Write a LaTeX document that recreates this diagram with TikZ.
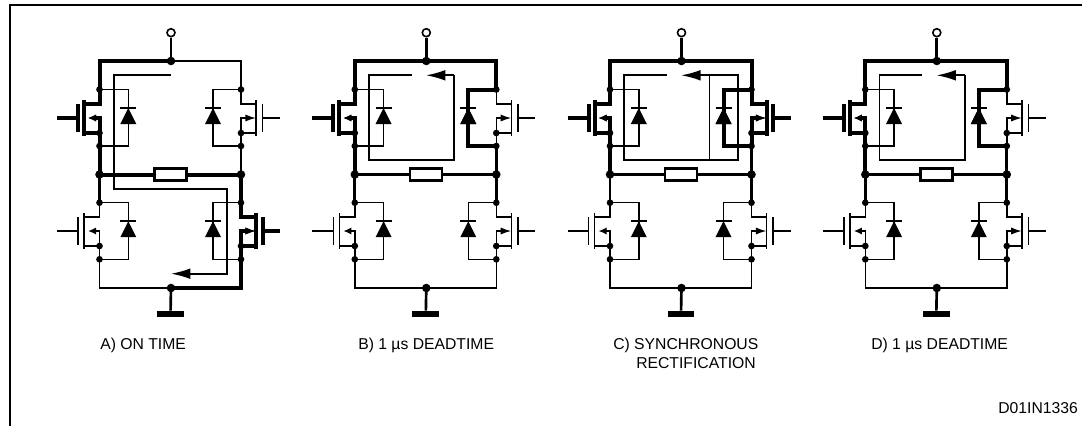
\documentclass[tikz,border=0pt]{standalone}
\usepackage{fontspec}
\setmainfont{Liberation Sans}
\usetikzlibrary{arrows.meta}

\tikzset{
  wire/.style={line width=1.15pt},
  medwire/.style={line width=2pt},
  boldwire/.style={line width=3pt},
  looppath/.style={line width=1.25pt},
  dot/.style={circle, fill=black, inner sep=0pt, minimum size=5pt},
  bigdot/.style={circle, fill=black, inner sep=0pt, minimum size=6.4pt},
  terminal/.style={circle, draw, fill=white, line width=1.2pt, inner sep=0pt, minimum size=6pt},
  res/.style={rectangle, draw, fill=white, line width=1.9pt, inner sep=0pt, minimum width=24pt, minimum height=9.2pt},
  gndbar/.style={rectangle, fill=black, inner sep=0pt, minimum width=20pt, minimum height=4.6pt},
  caption/.style={anchor=base west, inner sep=0pt, font=\fontsize{11.8}{14}\selectfont},
  current/.style={looppath, -{Latex[length=14.5pt,width=8pt]}}
}

\newcommand{\fetleft}[4]{
  \draw[#4] (#1,#2-14.5) -- (#1,#2) -- (#1-15.5,#2);
  \draw[#4] (#1-15.5,#2+29) -- (#1,#2+29) -- (#1,#2+42);
  \draw[#4] (#1-15.5,#2-4) -- (#1-15.5,#2+32);
  \draw[#4,-{Latex[length=6pt,width=5.4pt]}] (#1,#2+29) -- (#1,#2+14) -- (#1-11.5,#2+14);
  \draw[#3] (#1-42.5,#2+14) -- (#1-21.5,#2+14);
  \draw[#3] (#1-21.5,#2) -- (#1-21.5,#2+28);
}
\newcommand{\fetright}[4]{
  \draw[#4] (#1,#2-14.5) -- (#1,#2) -- (#1+15,#2);
  \draw[#4] (#1+15,#2+29) -- (#1,#2+29) -- (#1,#2+42);
  \draw[#4] (#1+15,#2-4) -- (#1+15,#2+32);
  \draw[#4,-{Latex[length=8pt,width=5.4pt]}] (#1,#2+29) -- (#1,#2+14) -- (#1+15,#2+14);
  \draw[#3] (#1+21.5,#2+14) -- (#1+39,#2+14);
  \draw[#3] (#1+21.5,#2) -- (#1+21.5,#2+28);
}
\newcommand{\diodeat}[4]{
  \draw[#4] (#1,#3) -- (#2,#3) -- (#2,#3+56.6) -- (#1,#3+56.6);
  \fill (#2,#3+18.5) -- (#2-8,#3+34.5) -- (#2+8,#3+34.5) -- cycle;
  \draw[wire] (#2-8,#3+18.5) -- (#2+8,#3+18.5);
}

\begin{document}
\begin{tikzpicture}[x=0.75pt, y=-0.75pt]
\useasboundingbox (0,0) rectangle (1082,426);

\coordinate (frameA) at (9.8,426);
\coordinate (frameB) at (9.8,5);
\coordinate (frameC) at (1082,5);
\draw[line width=1.8pt] (frameA) -- (frameB) -- (frameC);

\foreach \dx/\p in {0/a, 255.3/b, 510.5/c, 765.8/d} {
\begin{scope}[shift={(\dx,0)}, name prefix=\p-]
\coordinate (top) at (171,61);
\coordinate (lt) at (99.5,61);
\coordinate (rt) at (241,61);
\coordinate (lua) at (99.5,89.5);
\coordinate (lub) at (99.5,133);
\coordinate (luc) at (99.5,146);
\coordinate (lm) at (99.5,174.5);
\coordinate (lla) at (99.5,202.7);
\coordinate (llb) at (99.5,246);
\coordinate (llc) at (99.5,259.3);
\coordinate (lb) at (99.5,288);
\coordinate (rua) at (241,89.5);
\coordinate (rub) at (241,133);
\coordinate (ruc) at (241,146);
\coordinate (rm) at (241,174.5);
\coordinate (rla) at (241,202.7);
\coordinate (rlb) at (241,246);
\coordinate (rlc) at (241,259.3);
\coordinate (rb) at (241,288);
\coordinate (bot) at (171,288);

\node[terminal] (term) at (171,32.7) {};
\node[gndbar] (gnd) at (170.5,314) {};
\node[res] (load) at (170.5,174.5) {};

\draw[medwire] (term) -- (top);
\draw[medwire] (bot) -- (gnd);
\draw[wire] (lua) -- (lt) -- (rt) -- (rua);
\draw[wire] (llc) -- (lb) -- (rb) -- (rlc);
\draw[medwire] (lm) -- (load) -- (rm);
\draw[medwire] (luc) -- (lm) -- (lla);
\draw[medwire] (ruc) -- (rm) -- (rla);

\fetleft{99.5}{104}{wire}{wire}
\fetright{241}{104}{wire}{wire}
\fetleft{99.5}{217}{wire}{wire}
\fetright{241}{217}{wire}{wire}
\diodeat{99.5}{128.3}{89.5}{wire}
\diodeat{241}{213}{89.5}{wire}
\diodeat{99.5}{128.3}{202.7}{wire}
\diodeat{241}{213}{202.7}{wire}

\node[bigdot] (dottop) at (top) {};
\node[bigdot] (dotbot) at (bot) {};
\node[bigdot] (dotlm) at (lm) {};
\node[bigdot] (dotrm) at (rm) {};
\foreach \c in {lua,lub,luc,lla,llb,llc,rua,rub,ruc,rla,rlb,rlc}
  \node[dot] (dot\c) at (\c) {};
\end{scope}
}

\begin{scope}[name prefix=a-]
\draw[boldwire] (top) -- (lt) -- (lua);
\fetleft{99.5}{104}{boldwire}{boldwire}
\draw[boldwire] (luc) -- (lm);
\draw[boldwire] (lm) -- (load) -- (rm);
\draw[boldwire] (rm) -- (rla);
\fetright{241}{217}{boldwire}{boldwire}
\draw[boldwire] (rlc) -- (rb) -- (bot);
\draw[current] (170.7,75.3) -- (113.7,75.3) -- (113.7,189) -- (227.3,189) -- (227.3,273.7) -- (171,273.7);
\end{scope}

\foreach \dx/\p in {255.3/b, 510.5/c, 765.8/d} {
\begin{scope}[shift={(\dx,0)}, name prefix=\p-]
\draw[boldwire] (lua) -- (lt) -- (rt) -- (rua);
\fetleft{99.5}{104}{boldwire}{boldwire}
\draw[boldwire] (luc) -- (lm);
\diodeat{241}{213}{89.5}{boldwire}
\draw[looppath] (156.4,75.3) -- (113.7,75.3) -- (113.7,160) -- (199,160) -- (199,75.3);
\draw[current] (199,75.3) -- (170.7,75.3);
\end{scope}
}

\begin{scope}[shift={(510.5,0)}, name prefix=c-]
\fetright{241}{104}{boldwire}{boldwire}
\draw[looppath] (199,75.3) -- (227.2,75.3) -- (227.2,160) -- (199,160);
\end{scope}

\node[caption] (capa) at (100,349) {A) ON TIME};
\node[caption] (capb) at (358,349) {B) 1 µs DEADTIME};
\node[caption] (capc) at (613,349) {C) SYNCHRONOUS};
\node[caption] (capcc) at (636,368) {RECTIFICATION};
\node[caption] (capd) at (871,349) {D) 1 µs DEADTIME};
\node[caption] (code) at (998,413) {D01IN1336};

\end{tikzpicture}
\end{document}
